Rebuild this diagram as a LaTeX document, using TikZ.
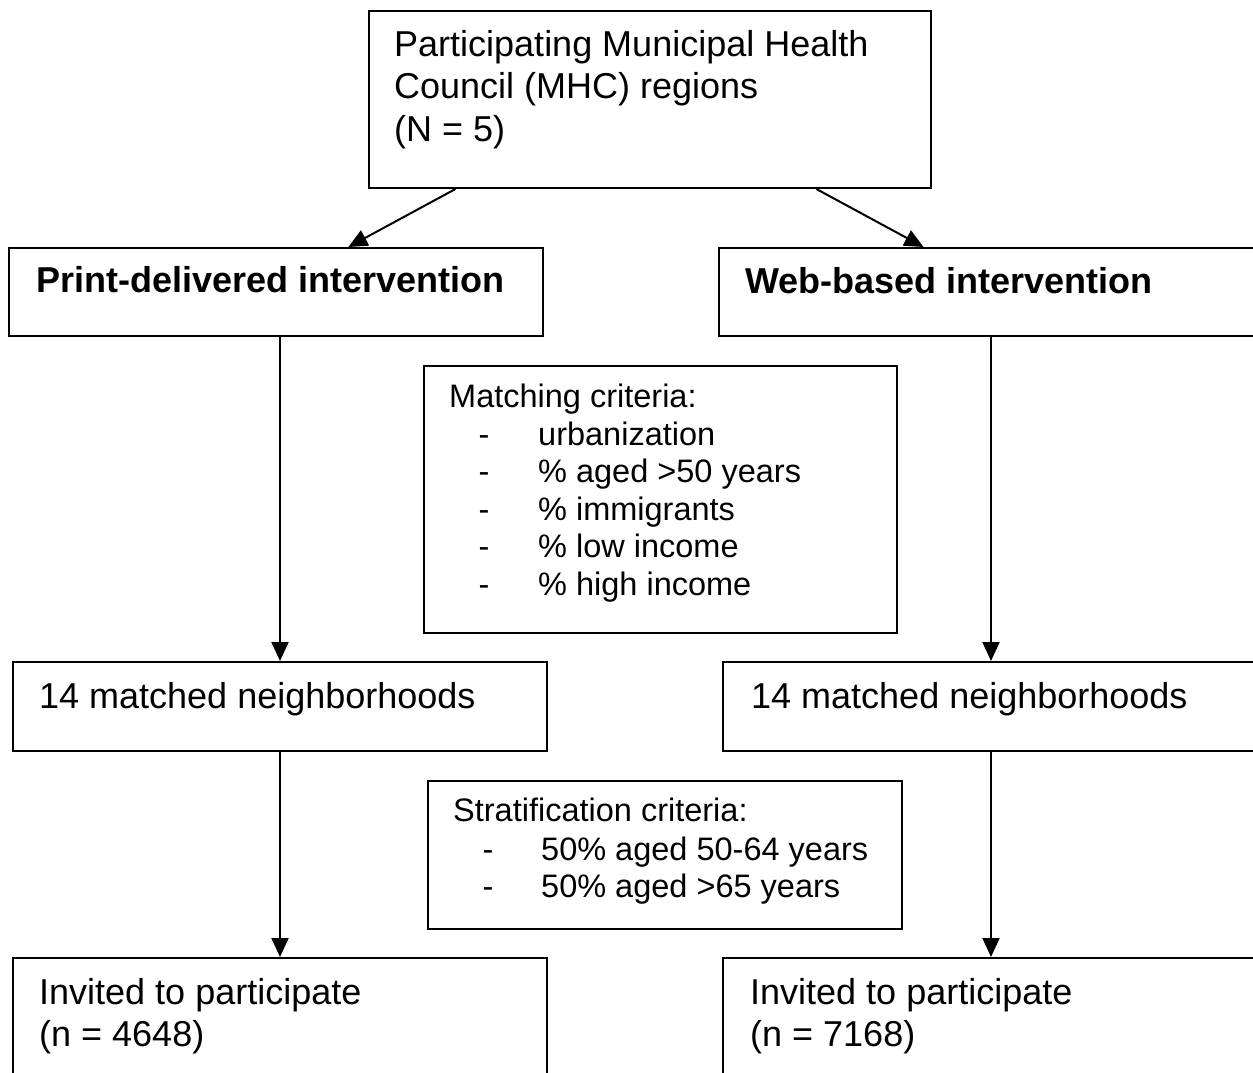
\documentclass[tikz,border=0pt]{standalone}
\usepackage{fontspec}
\setmainfont{Liberation Sans}
\usetikzlibrary{arrows.meta,calc}
\begin{document}
\begin{tikzpicture}[x=1pt,y=-1pt,
  box/.style={draw, line width=2pt, inner sep=0pt, anchor=north west},
  big/.style={inner sep=0pt, anchor=base west, font=\fontsize{36pt}{41pt}\selectfont},
  bigb/.style={inner sep=0pt, anchor=base west, font=\fontsize{36pt}{41pt}\selectfont\bfseries},
  small/.style={inner sep=0pt, anchor=base west, font=\fontsize{32.5pt}{37.5pt}\selectfont},
  arr/.style={line width=2pt, -{Triangle[length=19pt,width=17pt]}}]
\useasboundingbox (0,0) rectangle (1253,1072);
\clip (0,0) rectangle (1253,1072);
\fill[white] (0,0) rectangle (1253,1072);

% boxes
\node[box, minimum width=562pt, minimum height=177pt] (top) at (368,10) {};
\node[box, minimum width=534pt, minimum height=88pt] (pb) at (8,247) {};
\node[box, minimum width=536pt, minimum height=88pt] (wb) at (718,247) {};
\node[box, minimum width=473pt, minimum height=267pt] (mc) at (423,365) {};
\node[box, minimum width=534pt, minimum height=89pt] (ml) at (12,661) {};
\node[box, minimum width=536pt, minimum height=89pt] (mr) at (722,661) {};
\node[box, minimum width=474pt, minimum height=148pt] (sc) at (427,780) {};
\node[box, minimum width=534pt, minimum height=140pt] (il) at (12,957) {};
\node[box, minimum width=536pt, minimum height=140pt] (ir) at (722,957) {};

% texts
\node[big] (t1) at (394,56) {Participating Municipal Health};
\node[big] (t2) at (394,98) {Council (MHC) regions};
\node[big] (t3) at (394,141) {(N = 5)};

\node[bigb] (pbt) at (36,292) {Print-delivered intervention};
\node[bigb] (wbt) at (745,293) {Web-based intervention};

\node[small] (mct) at (449,407) {Matching criteria:};
\node[small] (md1) at (478.5,445) {-};
\node[small] (md2) at (478.5,482.5) {-};
\node[small] (md3) at (478.5,520) {-};
\node[small] (md4) at (478.5,557.5) {-};
\node[small] (md5) at (478.5,595) {-};
\node[small] (mi1) at (538,445) {urbanization};
\node[small] (mi2) at (538,482.5) {\% aged >50 years};
\node[small] (mi3) at (538,520) {\% immigrants};
\node[small] (mi4) at (538,557.5) {\% low income};
\node[small] (mi5) at (538,595) {\% high income};

\node[big] (mlt) at (39,708) {14 matched neighborhoods};
\node[big] (mrt) at (751,708) {14 matched neighborhoods};

\node[small] (sct) at (453,821.5) {Stratification criteria:};
\node[small] (sd1) at (482.5,860) {-};
\node[small] (sd2) at (482.5,897) {-};
\node[small] (si1) at (541,860) {50\% aged 50-64 years};
\node[small] (si2) at (541,897) {50\% aged >65 years};

\node[big] (il1) at (39,1004) {Invited to participate};
\node[big] (il2) at (39,1046) {(n = 4648)};
\node[big] (ir1) at (750,1004) {Invited to participate};
\node[big] (ir2) at (750,1046) {(n = 7168)};

% connectors
\draw[arr] ($(top.south west)!0.155!(top.south east)$) -- ($(pb.north west)!0.635!(pb.north east)$);
\draw[arr] ($(top.south west)!0.795!(top.south east)$) -- ($(wb.north west)!0.382!(wb.north east)$);
\draw[arr] (pb.south -| ml.north) -- (ml.north);
\draw[arr] (ml.south) -- (il.north);
\draw[arr] (wb.south -| mr.north) -- (mr.north);
\draw[arr] (mr.south) -- (ir.north);
\end{tikzpicture}
\end{document}
